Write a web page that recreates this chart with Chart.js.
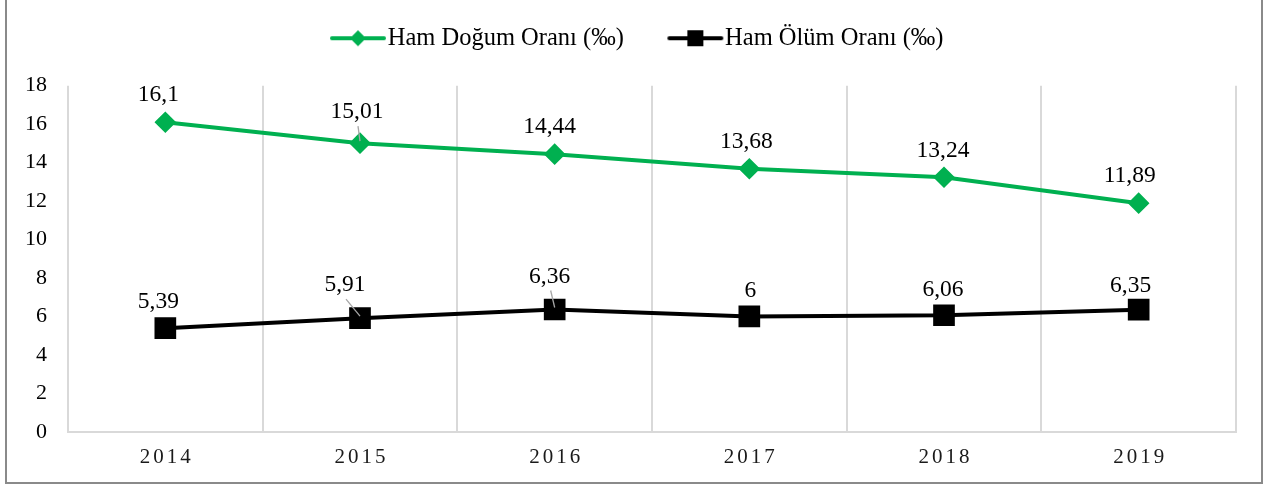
<!DOCTYPE html>
<html><head><meta charset="utf-8">
<script src="https://cdn.jsdelivr.net/npm/chart.js@4.4.1/dist/chart.umd.min.js"></script>
<style>
html,body{margin:0;padding:0;background:#fff;}
#wrap{position:relative;width:1266px;height:485px;overflow:hidden;}
#frame{position:absolute;left:5px;top:-3px;width:1258px;height:487px;border:2px solid #8a8a8a;box-sizing:border-box;pointer-events:none;}
#c{position:absolute;left:0;top:0;}
</style></head><body>
<div id="wrap"><canvas id="c" width="1266" height="485"></canvas><div id="frame"></div></div>
<script>
// ---- data ----
const categories = ['2014', '2015', '2016', '2017', '2018', '2019'];
const birthRate = [16.1, 15.01, 14.44, 13.68, 13.24, 11.89];
const deathRate = [5.39, 5.91, 6.36, 6, 6.06, 6.35];
const seriesNames = ['Ham Doğum Oranı (‰)', 'Ham Ölüm Oranı (‰)'];
const yMin = 0, yMax = 18, yStep = 2;

// ---- style ----
const GREEN = '#00B050', BLACK = '#000000';
const FONT = "'Liberation Serif', 'Times New Roman', serif";
const LEG_FS = 24.5, LEG_BW = 79, LEG_PAD = 10;
// label offsets [dx, dy, leader]
const labelOffsets = [
  [[-7,-27,0],[-3,-31,1],[-5,-27,0],[-3,-27,0],[-1,-26,0],[-9,-27,0]],
  [[-7,-26,0],[-15,-33,1],[-5,-33,1],[1,-26,0],[-1,-25,0],[-8,-24,0]]
];

function fmt(v){ return String(v).replace('.', ','); }

function makeIcon(color, shape){
  const W = Math.round(LEG_BW + LEG_FS - 2);
  const cv = document.createElement('canvas');
  cv.width = W; cv.height = 22;
  const g = cv.getContext('2d');
  const x0 = W - 57, x1 = W - 1, cx = (x0 + x1) / 2;
  g.strokeStyle = color; g.lineWidth = 4; g.lineCap = 'round';
  g.beginPath(); g.moveTo(x0 + 2, 11); g.lineTo(x1 - 2, 11); g.stroke();
  g.fillStyle = color;
  if (shape === 'diamond') {
    g.beginPath(); g.moveTo(cx, 3); g.lineTo(cx + 8, 11); g.lineTo(cx, 19); g.lineTo(cx - 8, 11); g.closePath(); g.fill();
  } else {
    g.fillRect(cx - 8, 3, 16, 16);
  }
  return cv;
}
const icons = [makeIcon(GREEN, 'diamond'), makeIcon(BLACK, 'square')];

const labelPlugin = {
  id: 'labels',
  afterDatasetsDraw(chart){
    const ctx = chart.ctx;
    ctx.save();
    ctx.font = '23.5px ' + FONT;
    ctx.textAlign = 'center';
    ctx.textBaseline = 'middle';
    chart.data.datasets.forEach((ds, di) => {
      const meta = chart.getDatasetMeta(di);
      meta.data.forEach((pt, i) => {
        const [dx, dy, leader] = labelOffsets[di][i];
        const tx = pt.x + dx, ty = pt.y + dy;
        if (leader) {
          ctx.strokeStyle = '#a6a6a6'; ctx.lineWidth = 1.3;
          ctx.beginPath(); ctx.moveTo(tx + 1, ty + 14); ctx.lineTo(pt.x, pt.y - 2); ctx.stroke();
        }
        ctx.fillStyle = '#000';
        ctx.fillText(fmt(ds.data[i]), tx, ty);
      });
    });
    ctx.restore();
  },
  afterDraw(chart){
    const ctx = chart.ctx, xs = chart.scales.x;
    ctx.save();
    ctx.font = '21px ' + FONT;
    ctx.fillStyle = '#1a1a1a';
    ctx.textBaseline = 'middle';
    ctx.textAlign = 'left';
    const sp = 3;
    try { ctx.letterSpacing = sp + 'px'; } catch(e) {}
    chart.data.labels.forEach((lab, i) => {
      const x = xs.getPixelForValue(i);
      const w = ctx.measureText(lab).width - (ctx.letterSpacing ? sp : 0);
      ctx.fillText(lab, x - w / 2, xs.top + 26);
    });
    ctx.restore();
  }
};

new Chart(document.getElementById('c'), {
  type: 'line',
  data: {
    labels: categories,
    datasets: [
      { label: seriesNames[0], data: birthRate, borderColor: GREEN, backgroundColor: GREEN,
        borderWidth: 4, pointStyle: 'rectRot', pointRadius: 8, pointHoverRadius: 8, tension: 0 },
      { label: seriesNames[1], data: deathRate, borderColor: BLACK, backgroundColor: BLACK,
        borderWidth: 4, pointStyle: 'rect', pointRadius: 12.5, pointHoverRadius: 12.5, tension: 0 }
    ]
  },
  options: {
    responsive: false,
    animation: false,
    events: [],
    layout: { padding: { left: 4, right: 30, top: 16, bottom: 14 } },
    plugins: {
      tooltip: { enabled: false },
      title: { display: true, text: '', weight: 100, font: { size: 1 }, padding: { top: 0, bottom: 24 } },
      legend: {
        position: 'top',
        align: 'center',
        labels: {
          usePointStyle: true,
          pointStyleWidth: LEG_BW,
          boxHeight: LEG_FS,
          padding: LEG_PAD,
          font: { family: FONT, size: LEG_FS },
          color: '#000',
          generateLabels(chart){
            return chart.data.datasets.map((ds, i) => ({
              text: ds.label, pointStyle: icons[i], datasetIndex: i, hidden: false,
              fontColor: '#000', lineWidth: 0, strokeStyle: 'rgba(0,0,0,0)', fillStyle: 'rgba(0,0,0,0)'
            }));
          }
        }
      }
    },
    scales: {
      x: {
        offset: true,
        grid: { display: true, offset: true, color: '#d9d9d9', lineWidth: 2, drawTicks: false },
        border: { display: true, color: '#d9d9d9', width: 2 },
        ticks: { color: 'rgba(0,0,0,0)', font: { family: FONT, size: 21 }, padding: 7 }
      },
      y: {
        min: yMin, max: yMax,
        grid: { display: false, drawTicks: false },
        border: { display: false },
        ticks: { stepSize: yStep, color: '#000', font: { family: FONT, size: 22 }, padding: 21 }
      }
    }
  },
  plugins: [labelPlugin]
});
</script>
</body></html>
